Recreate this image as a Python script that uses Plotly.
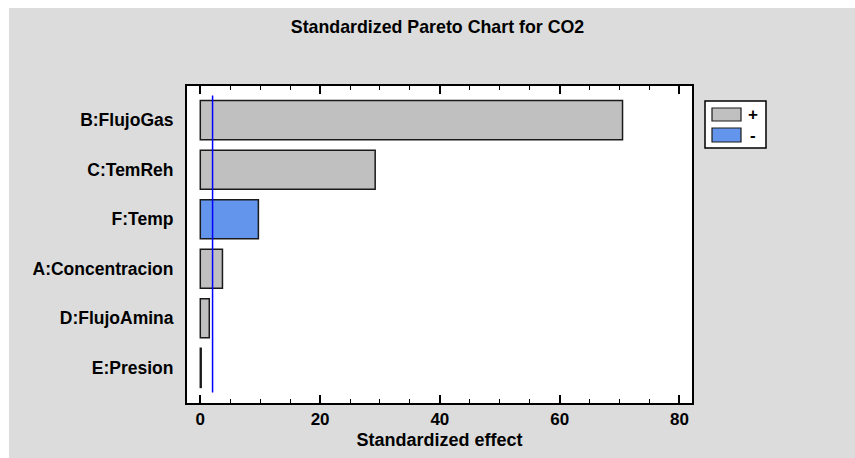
import plotly.graph_objects as go

# Standardized effects of each factor on CO2 (absolute value, sign kept separately)
factors = ["B:FlujoGas", "C:TemReh", "F:Temp", "A:Concentracion", "D:FlujoAmina", "E:Presion"]
effects = [70.5, 29.2, 9.7, 3.7, 1.5, 0.15]
signs = ["+", "+", "-", "+", "+", "+"]
critical_value = 2.05  # reference line for significance

sign_colors = {"+": "#c0c0c0", "-": "#6495ed"}

W, H = 855, 458
L, R, T, B = 187, 692, 86, 403  # plot area edges in pixels


def px_x(x):
    return (x - L) / (R - L)


def px_y(y):
    return (B - y) / (B - T)


FONT = "Liberation Sans, Arial, sans-serif"

fig = go.Figure()
fig.add_trace(go.Bar(
    y=factors,
    x=effects,
    orientation="h",
    width=0.79,
    marker=dict(color=[sign_colors[s] for s in signs],
                line=dict(color="#1a1a1a", width=1.5)),
    showlegend=False,
    hoverinfo="x+y",
))

shapes = [
    # thin white frame along the top and left edges of the grey panel
    dict(type="rect", xref="paper", yref="paper", layer="below",
         x0=px_x(-5), x1=px_x(W + 5), y0=px_y(8), y1=px_y(-5),
         fillcolor="white", line=dict(width=0)),
    dict(type="rect", xref="paper", yref="paper", layer="below",
         x0=px_x(-5), x1=px_x(9), y0=px_y(H + 5), y1=px_y(-5),
         fillcolor="white", line=dict(width=0)),
    # significance line
    dict(type="line", xref="x", yref="y", x0=critical_value, x1=critical_value,
         y0=-0.5, y1=5.5, line=dict(color="#0000ff", width=1.5)),
    # legend box
    dict(type="rect", xref="paper", yref="paper",
         x0=px_x(705), x1=px_x(766), y0=px_y(148), y1=px_y(101),
         fillcolor="white", line=dict(color="black", width=1.5)),
]

annotations = []
legend_rows = [("+", 108, 121), ("-", 128, 142)]
for label, top, bottom in legend_rows:
    shapes.append(dict(type="rect", xref="paper", yref="paper",
                       x0=px_x(712), x1=px_x(741), y0=px_y(bottom), y1=px_y(top),
                       fillcolor=sign_colors[label], line=dict(color="#1a1a1a", width=1.2)))
    annotations.append(dict(xref="paper", yref="paper", x=px_x(753), y=px_y((top + bottom) / 2),
                            text=label, showarrow=False, xanchor="center", yanchor="middle",
                            font=dict(family=FONT, size=17, color="black", weight="bold")))

fig.update_layout(
    width=W, height=H,
    margin=dict(l=L, r=W - R, t=T, b=H - B),
    paper_bgcolor="#dcdcdc",
    plot_bgcolor="white",
    font=dict(family=FONT, size=17, color="black", weight="bold"),
    title=dict(text="Standardized Pareto Chart for CO2", x=(290 + 585) / 2 / W, xanchor="center",
               y=1 - 27 / H, yanchor="middle",
               font=dict(family=FONT, size=17.8, color="black", weight="bold")),
    shapes=shapes,
    annotations=annotations,
    bargap=0.21,
)

fig.update_xaxes(
    range=[-2.22, 82.1],
    tickmode="linear", tick0=0, dtick=20,
    ticks="inside", ticklen=8, tickwidth=1.5, tickcolor="black",
    minor=dict(dtick=5, ticks="inside", ticklen=4, tickwidth=1, tickcolor="black"),
    showline=True, linecolor="black", linewidth=2, mirror="ticks",
    showgrid=False, zeroline=False,
    title=dict(text="Standardized effect", standoff=5,
               font=dict(family=FONT, size=18, weight="bold")),
    tickfont=dict(family=FONT, size=17, weight="bold"),
)

fig.update_yaxes(
    type="category",
    categoryorder="array", categoryarray=factors,
    range=[5.71, -0.69],
    ticks="", showline=True, linecolor="black", linewidth=2, mirror=True,
    showgrid=False, zeroline=False,
    ticklabelstandoff=8,
    tickfont=dict(family=FONT, size=17.5, weight="bold"),
)

fig.write_html("out.html")
